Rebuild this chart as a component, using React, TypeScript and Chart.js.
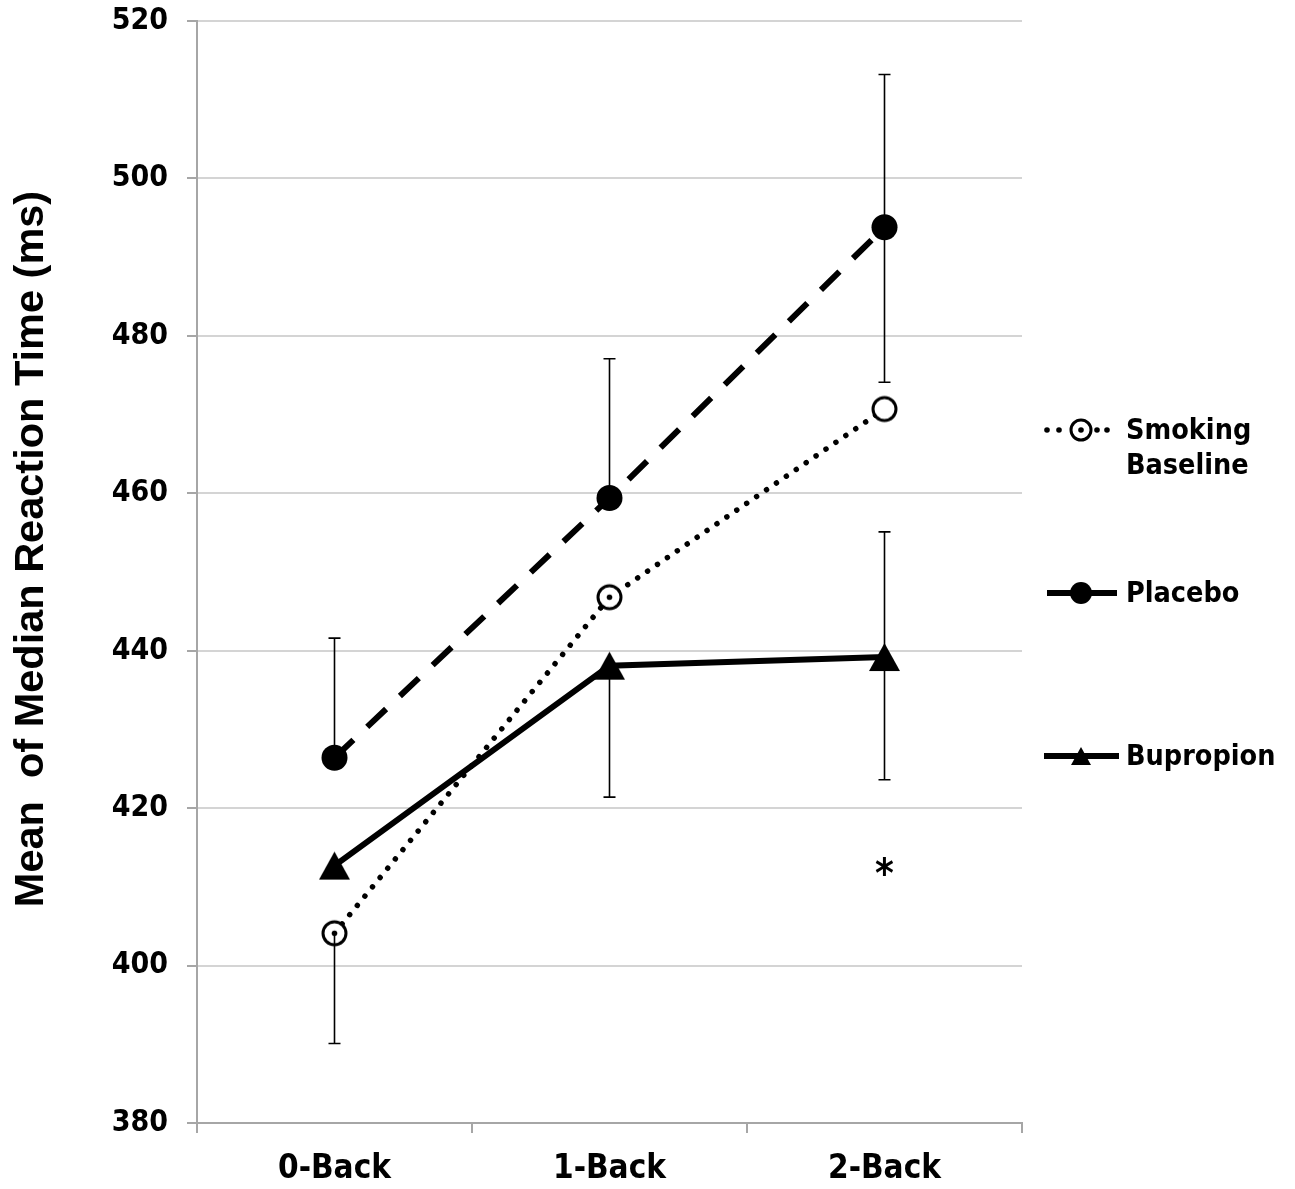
import React, { useEffect, useRef } from "react";
import { Chart, registerables } from "chart.js";

Chart.register(...registerables);

const categories = ["0-Back", "1-Back", "2-Back"];
const yTicks = [380, 400, 420, 440, 460, 480, 500, 520];

const smokingValues = [404.1, 446.8, 470.7];
const placeboValues = [426.4, 459.4, 493.8];
const bupropionValues = [412.7, 438.1, 439.2];

// error bars (upper / lower lengths, null = not drawn)
const smokingErrPlus = [null, null, null];
const smokingErrMinus = [14.0, null, null];
const placeboErrPlus = [15.2, 17.7, 19.4];
const placeboErrMinus = [null, null, 19.7];
const bupropionErrPlus = [null, null, 15.9];
const bupropionErrMinus = [null, 16.7, 15.6];

const seriesNames = ["Smoking Baseline", "Placebo", "Bupropion"];
const yTitle = "Mean  of Median Reaction Time (ms)";
const starCategory = 2;
const starValue = 412;

const FONT = "'DejaVu Sans Condensed', 'DejaVu Sans'";

function makeRing(withDot: boolean, r: number, lw: number) {
  const size = Math.ceil(2 * (r + lw)) + 2;
  const c = document.createElement("canvas");
  c.width = size;
  c.height = size;
  const ctx = c.getContext("2d")!;
  ctx.beginPath();
  ctx.arc(size / 2, size / 2, r, 0, Math.PI * 2);
  ctx.fillStyle = "#fff";
  ctx.fill();
  ctx.lineWidth = lw;
  ctx.strokeStyle = "#000";
  ctx.stroke();
  if (withDot) {
    ctx.beginPath();
    ctx.arc(size / 2, size / 2, 2.8, 0, Math.PI * 2);
    ctx.fillStyle = "#000";
    ctx.fill();
  }
  return c;
}

function makeTriangle(w: number, h: number) {
  const c = document.createElement("canvas");
  c.width = w + 2;
  c.height = h + 2;
  const ctx = c.getContext("2d")!;
  ctx.beginPath();
  ctx.moveTo(1 + w / 2, 1);
  ctx.lineTo(1 + w, 1 + h);
  ctx.lineTo(1, 1 + h);
  ctx.closePath();
  ctx.fillStyle = "#000";
  ctx.fill();
  return c;
}

export default function App() {
  const ref = useRef<HTMLCanvasElement | null>(null);

  useEffect(() => {
    document.body.style.margin = "0";
    const canvas = ref.current!;
    const ringDot = makeRing(true, 11.5, 3);
    const ringPlain = makeRing(false, 11.5, 3);
    const tri = makeTriangle(31, 28);

    const errorSets = [
      { values: smokingValues, plus: smokingErrPlus, minus: smokingErrMinus },
      { values: placeboValues, plus: placeboErrPlus, minus: placeboErrMinus },
      { values: bupropionValues, plus: bupropionErrPlus, minus: bupropionErrMinus },
    ];

    const extras = {
      id: "extras",
      afterDatasetsDraw(chart: any) {
        const ctx = chart.ctx;
        const xs = chart.scales.x;
        const ys = chart.scales.y;
        ctx.save();
        ctx.strokeStyle = "#000";
        ctx.lineWidth = 1.6;
        const cap = 6;
        errorSets.forEach((s) => {
          s.values.forEach((v, i) => {
            const x = xs.getPixelForValue(i);
            const y0 = ys.getPixelForValue(v);
            const ends: number[] = [];
            if (s.plus[i] != null) ends.push(v + (s.plus[i] as number));
            if (s.minus[i] != null) ends.push(v - (s.minus[i] as number));
            ends.forEach((e) => {
              const y1 = ys.getPixelForValue(e);
              ctx.beginPath();
              ctx.moveTo(x, y0);
              ctx.lineTo(x, y1);
              ctx.moveTo(x - cap, y1);
              ctx.lineTo(x + cap, y1);
              ctx.stroke();
            });
          });
        });
        // star
        ctx.fillStyle = "#000";
        ctx.font = `bold 40px ${FONT}`;
        ctx.textAlign = "center";
        ctx.textBaseline = "middle";
        ctx.fillText("*", xs.getPixelForValue(starCategory), ys.getPixelForValue(starValue) + 5);
        ctx.restore();
      },
      afterDraw(chart: any) {
        const ctx = chart.ctx;
        ctx.save();
        // y axis title
        ctx.fillStyle = "#000";
        ctx.font = "bold 41.5px 'Liberation Sans'";
        ctx.textAlign = "center";
        ctx.textBaseline = "alphabetic";
        ctx.translate(43, 549);
        ctx.rotate(-Math.PI / 2);
        ctx.fillText(yTitle, 0, 0);
        ctx.restore();

        ctx.save();
        const mx = 1081;
        // Smoking baseline
        let y = 430;
        ctx.fillStyle = "#000";
        [1047, 1059, 1097, 1107].forEach((dx) => {
          ctx.beginPath();
          ctx.arc(dx, y, 2.8, 0, Math.PI * 2);
          ctx.fill();
        });
        ctx.beginPath();
        ctx.arc(mx, y, 10, 0, Math.PI * 2);
        ctx.fillStyle = "#fff";
        ctx.fill();
        ctx.lineWidth = 3;
        ctx.strokeStyle = "#000";
        ctx.stroke();
        ctx.beginPath();
        ctx.fillStyle = "#000";
        ctx.arc(mx, y, 2.8, 0, Math.PI * 2);
        ctx.fill();
        // Placebo
        y = 593;
        ctx.lineWidth = 6;
        ctx.beginPath();
        ctx.moveTo(1047, y);
        ctx.lineTo(1117, y);
        ctx.stroke();
        ctx.beginPath();
        ctx.arc(mx, y, 11, 0, Math.PI * 2);
        ctx.fill();
        // Bupropion
        y = 756;
        ctx.beginPath();
        ctx.moveTo(1044, y);
        ctx.lineTo(1119, y);
        ctx.stroke();
        ctx.beginPath();
        ctx.moveTo(mx, y - 9);
        ctx.lineTo(mx + 10, y + 9);
        ctx.lineTo(mx - 10, y + 9);
        ctx.closePath();
        ctx.fill();

        ctx.font = `bold 28.5px ${FONT}`;
        ctx.textAlign = "left";
        ctx.textBaseline = "middle";
        ctx.fillText("Smoking", 1126, 432);
        ctx.fillText("Baseline", 1126, 467);
        ctx.fillText(seriesNames[1], 1126, 595);
        ctx.fillText(seriesNames[2], 1126, 758);
        ctx.restore();
      },
    };

    const chart = new Chart(canvas, {
      type: "line",
      data: {
        labels: categories,
        datasets: [
          {
            label: seriesNames[0],
            data: smokingValues,
            borderColor: "#000",
            borderWidth: 5.5,
            borderDash: [0.01, 12],
            borderCapStyle: "round",
            pointStyle: [ringDot, ringDot, ringPlain] as any,
            pointRadius: 12,
            tension: 0,
          },
          {
            label: seriesNames[1],
            data: placeboValues,
            borderColor: "#000",
            borderWidth: 6,
            borderDash: [26, 19],
            pointStyle: "circle",
            pointRadius: 13,
            pointBackgroundColor: "#000",
            pointBorderWidth: 0,
            tension: 0,
          },
          {
            label: seriesNames[2],
            data: bupropionValues,
            borderColor: "#000",
            borderWidth: 6,
            pointStyle: tri as any,
            pointRadius: 15,
            tension: 0,
          },
        ],
      },
      options: {
        responsive: false,
        animation: false,
        events: [],
        layout: { padding: { top: 18, right: 273, bottom: 0, left: 0 } },
        plugins: { legend: { display: false }, tooltip: { enabled: false } },
        scales: {
          x: {
            offset: true,
            afterFit: (s: any) => {
              s.height = 66;
              s.paddingLeft = 0;
              s.paddingRight = 0;
            },
            grid: {
              offset: true,
              drawOnChartArea: false,
              drawTicks: true,
              tickLength: 10,
              tickColor: "#a6a6a6",
              lineWidth: 2,
            },
            border: { display: true, color: "#a6a6a6", width: 2 },
            ticks: {
              color: "#000",
              padding: 17,
              font: { family: FONT, weight: "bold", size: 33, lineHeight: 1.2 },
            },
          },
          y: {
            min: 380,
            max: 520,
            afterFit: (s: any) => {
              s.width = 197;
              s.paddingTop = 0;
              s.paddingBottom = 0;
            },
            afterBuildTicks: (s: any) => {
              s.ticks = yTicks.map((v) => ({ value: v }));
            },
            grid: {
              color: "#d4d4d4",
              lineWidth: 2,
              tickLength: 10,
              tickColor: "#a6a6a6",
            },
            border: { display: true, color: "#a6a6a6", width: 2 },
            ticks: {
              color: "#000",
              padding: 19,
              font: { family: FONT, weight: "bold", size: 30, lineHeight: 1.2 },
            },
          },
        },
      },
      plugins: [extras],
    } as any);
    return () => chart.destroy();
  }, []);

  return (
    <div style={{ width: 1295, height: 1189 }}>
      <canvas ref={ref} width={1295} height={1189} style={{ display: "block" }} />
    </div>
  );
}
